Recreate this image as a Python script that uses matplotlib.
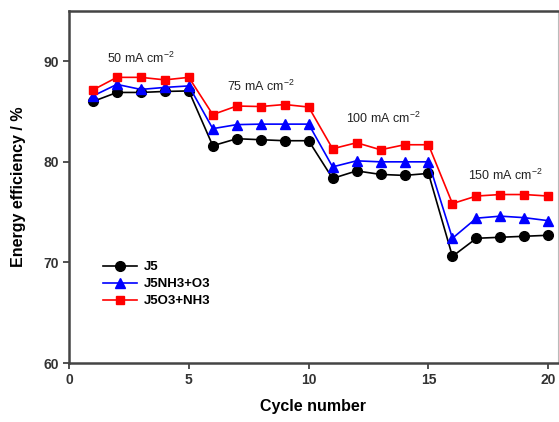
import numpy as np
import matplotlib
matplotlib.use("Agg")
import matplotlib.pyplot as plt

plt.rcParams['font.family'] = ['Liberation Sans', 'DejaVu Sans']
plt.rcParams['mathtext.default'] = 'regular'

# données
cycles = np.arange(1, 21)
j5 = [86.0, 86.9, 86.9, 87.0, 87.05,
      81.6, 82.3, 82.2, 82.1, 82.1,
      78.35, 79.1, 78.75, 78.65, 78.85,
      70.6, 72.4, 72.5, 72.6, 72.7]
j5_nh3_o3 = [86.55, 87.7, 87.2, 87.4, 87.55,
             83.3, 83.7, 83.75, 83.75, 83.75,
             79.5, 80.1, 80.0, 80.0, 80.0,
             72.4, 74.4, 74.6, 74.45, 74.15]
j5_o3_nh3 = [87.15, 88.4, 88.4, 88.15, 88.4,
             84.7, 85.55, 85.5, 85.7, 85.45,
             81.3, 81.9, 81.2, 81.7, 81.7,
             75.85, 76.6, 76.75, 76.75, 76.6]
labels = ["J5", "J5NH3+O3", "J5O3+NH3"]
densites = ["50", "75", "100", "150"]
pos_densites = [(3.0, 90.3), (8.0, 87.5), (13.1, 84.3), (18.2, 78.7)]

fig = plt.figure(figsize=(5.59, 4.22), dpi=100)
ax = fig.add_axes([0.1234, 0.1398, 0.8746, 0.8342])

ax.plot(cycles, j5, color='black', marker='o', markersize=7, linewidth=1.2, label=labels[0])
ax.plot(cycles, j5_nh3_o3, color='blue', marker='^', markersize=7, linewidth=1.2, label=labels[1])
ax.plot(cycles, j5_o3_nh3, color='red', marker='s', markersize=6, linewidth=1.2, label=labels[2])

for d, (x, y) in zip(densites, pos_densites):
    ax.text(x, y, d + " mA cm$^{-2}$", ha='center', va='center', fontsize=9, color='#222222')

ax.set_xlim(0, 20.4)
ax.set_ylim(60, 95)
ax.set_xticks([0, 5, 10, 15, 20])
ax.set_yticks([60, 70, 80, 90])
ax.tick_params(direction='out', length=4, width=1.2, labelsize=10, colors='#333333')
for lab in ax.get_xticklabels() + ax.get_yticklabels():
    lab.set_fontweight('bold')

for s in ['left', 'bottom', 'top']:
    ax.spines[s].set_linewidth(1.8)
    ax.spines[s].set_color('#444444')
ax.spines['right'].set_linewidth(0.8)
ax.spines['right'].set_color('#bbbbbb')

ax.set_xlabel("Cycle number", fontsize=11.5, fontweight='bold', labelpad=8)
ax.set_ylabel("Energy efficiency / %", fontsize=11.5, fontweight='bold', labelpad=12)

leg = ax.legend(loc='center left', bbox_to_anchor=(0.045, 0.224), frameon=False,
                prop={'weight': 'bold', 'size': 9.5}, handlelength=2.6,
                labelspacing=0.35, handletextpad=0.5)

fig.savefig("out.png", dpi=100)
